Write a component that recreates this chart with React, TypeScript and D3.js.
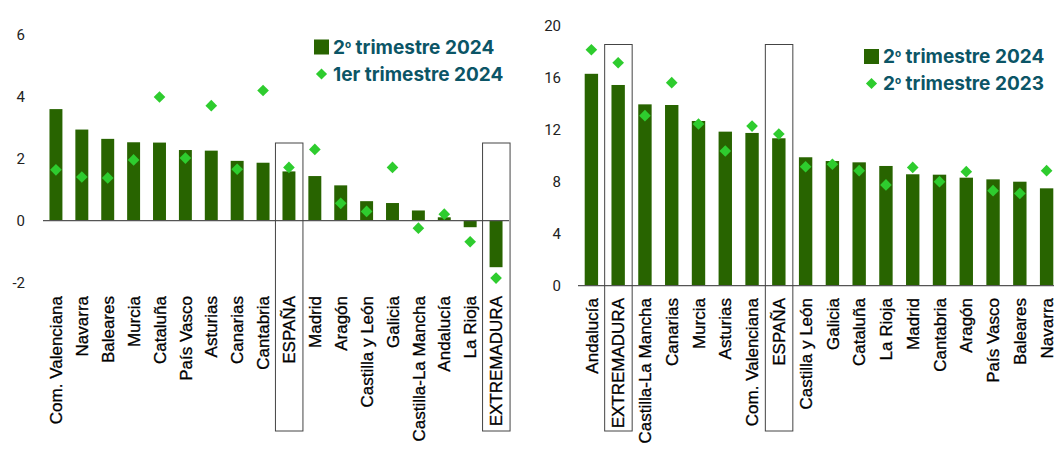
import React from "react";
import * as d3 from "d3";

const leftCategories = ["Com. Valenciana","Navarra","Baleares","Murcia","Cataluña","País Vasco","Asturias","Canarias","Cantabria","ESPAÑA","Madrid","Aragón","Castilla y León","Galicia","Castilla-La Mancha","Andalucía","La Rioja","EXTREMADURA"];
const leftQ2_2024 = [3.6,2.94,2.64,2.53,2.52,2.28,2.26,1.93,1.87,1.59,1.44,1.14,0.63,0.57,0.33,0.11,-0.21,-1.5];
const leftQ1_2024 = [1.64,1.41,1.38,1.96,3.99,2.02,3.71,1.66,4.2,1.72,2.3,0.56,0.3,1.72,-0.24,0.21,-0.68,-1.85];
const leftTicks = [-2,0,2,4,6];
const leftLegend2: [string, string, string] = ["1er trimestre 2024", "", ""];

const rightCategories = ["Andalucía","EXTREMADURA","Castilla-La Mancha","Canarias","Murcia","Asturias","Com. Valenciana","ESPAÑA","Castilla y León","Galicia","Cataluña","La Rioja","Madrid","Cantabria","Aragón","País Vasco","Baleares","Navarra"];
const rightQ2_2024 = [16.3,15.44,13.95,13.9,12.67,11.85,11.75,11.34,9.88,9.59,9.49,9.21,8.57,8.54,8.31,8.18,8.0,7.49];
const rightQ2_2023 = [18.15,17.15,13.08,15.62,12.44,10.36,12.28,11.67,9.15,9.34,8.85,7.75,9.1,8.0,8.77,7.31,7.1,8.85];
const rightTicks = [0,4,8,12,16,20];
const rightLegend2: [string, string, string] = ["2", "o", " trimestre 2023"];

const highlighted = ["ESPAÑA", "EXTREMADURA"];

const BAR = "#286400";
const DIAMOND = "#2ecc2e";
const TEAL = "#0b5566";
const LABEL_FONT = "'Liberation Sans', Arial, sans-serif";
const TICK_FONT = "Roboto, 'DejaVu Sans', sans-serif";
const LEGEND_FONT = "Inter, 'Noto Sans', sans-serif";

type PanelProps = {
  cats: string[];
  bars: number[];
  dots: number[];
  ticks: number[];
  domain: [number, number];
  yRange: [number, number];
  xRange: [number, number];
  tickRight: number;
  labelTop: number;
  boxTop: number;
  boxBottom: number;
  legendX: number;
  legendY: number;
  legend2: [string, string, string];
};

function Legend({ x, y, second }: { x: number; y: number; second: [string, string, string] }) {
  const diamond = d3.symbol(d3.symbolSquare, 62)()!;
  const gap = 27;
  return (
    <g fontFamily={LEGEND_FONT} fontWeight={700} fontSize={19} fill={TEAL}>
      <rect x={x} y={y - 7.5} width={15} height={15} fill={BAR} />
      <text x={x + 19} y={y} dy="0.36em">
        <tspan>2</tspan>
        <tspan fontSize={10} dy="-0.6em">o</tspan>
        <tspan dy="0.32em">{" trimestre 2024"}</tspan>
      </text>
      <path d={diamond} transform={`translate(${x + 7.5},${y + gap}) rotate(45)`} fill={DIAMOND} />
      <text x={x + 19} y={y + gap} dy="0.36em">
        <tspan>{second[0]}</tspan>
        {second[1] ? <tspan fontSize={10} dy="-0.6em">{second[1]}</tspan> : null}
        {second[2] ? <tspan dy="0.32em">{second[2]}</tspan> : null}
      </text>
    </g>
  );
}

function Panel(p: PanelProps) {
  const x = d3.scaleBand<string>().domain(p.cats).range(p.xRange).paddingInner(0.5).paddingOuter(0.25);
  const y = d3.scaleLinear().domain(p.domain).range(p.yRange);
  const diamond = d3.symbol(d3.symbolSquare, 68)()!;
  const bw = x.bandwidth();
  return (
    <g>
      {p.ticks.map((t) => (
        <text key={t} x={p.tickRight} y={y(t)} dy="0.35em" textAnchor="end" fontFamily={TICK_FONT} fontSize={15} fill="#222">
          {t}
        </text>
      ))}
      {p.cats.map((c, i) => {
        const v = p.bars[i];
        const x0 = x(c)!;
        return <rect key={c} x={x0} width={bw} y={Math.min(y(v), y(0))} height={Math.abs(y(v) - y(0))} fill={BAR} />;
      })}
      <line x1={p.xRange[0]} x2={p.xRange[1]} y1={y(0)} y2={y(0)} stroke="#555" strokeWidth={1.2} />
      {p.cats.map((c, i) => (
        <path key={c} d={diamond} transform={`translate(${x(c)! + bw / 2},${y(p.dots[i])}) rotate(45)`} fill={DIAMOND} />
      ))}
      {p.cats.map((c) => {
        const cx = x(c)! + bw / 2;
        return (
          <text key={c} transform={`translate(${cx},${p.labelTop}) rotate(-90)`} dy="0.36em" textAnchor="end" fontFamily={LABEL_FONT} fontSize={17} fill="#000" stroke="#000" strokeWidth={0.3}>
            {c}
          </text>
        );
      })}
      {p.cats.filter((c) => highlighted.includes(c)).map((c) => {
        const cx = x(c)! + bw / 2;
        return <rect key={"box" + c} x={cx - 13.5} y={p.boxTop} width={27.5} height={p.boxBottom - p.boxTop} fill="none" stroke="#444" strokeWidth={1} />;
      })}
      <Legend x={p.legendX} y={p.legendY} second={p.legend2} />
    </g>
  );
}

export default function App() {
  return (
    <svg width={1054} height={450} style={{ position: "absolute", left: 0, top: 0, background: "#fff" }}>
      <Panel
        cats={leftCategories}
        bars={leftQ2_2024}
        dots={leftQ1_2024}
        ticks={leftTicks}
        domain={[-2, 6]}
        yRange={[282.7, 34.7]}
        xRange={[43, 509]}
        tickRight={25}
        labelTop={296}
        boxTop={143}
        boxBottom={431}
        legendX={314}
        legendY={47}
        legend2={leftLegend2}
      />
      <Panel
        cats={rightCategories}
        bars={rightQ2_2024}
        dots={rightQ2_2023}
        ticks={rightTicks}
        domain={[0, 20]}
        yRange={[285.7, 25.7]}
        xRange={[578, 1060]}
        tickRight={561}
        labelTop={298}
        boxTop={44.5}
        boxBottom={431}
        legendX={864}
        legendY={56.5}
        legend2={rightLegend2}
      />
    </svg>
  );
}
